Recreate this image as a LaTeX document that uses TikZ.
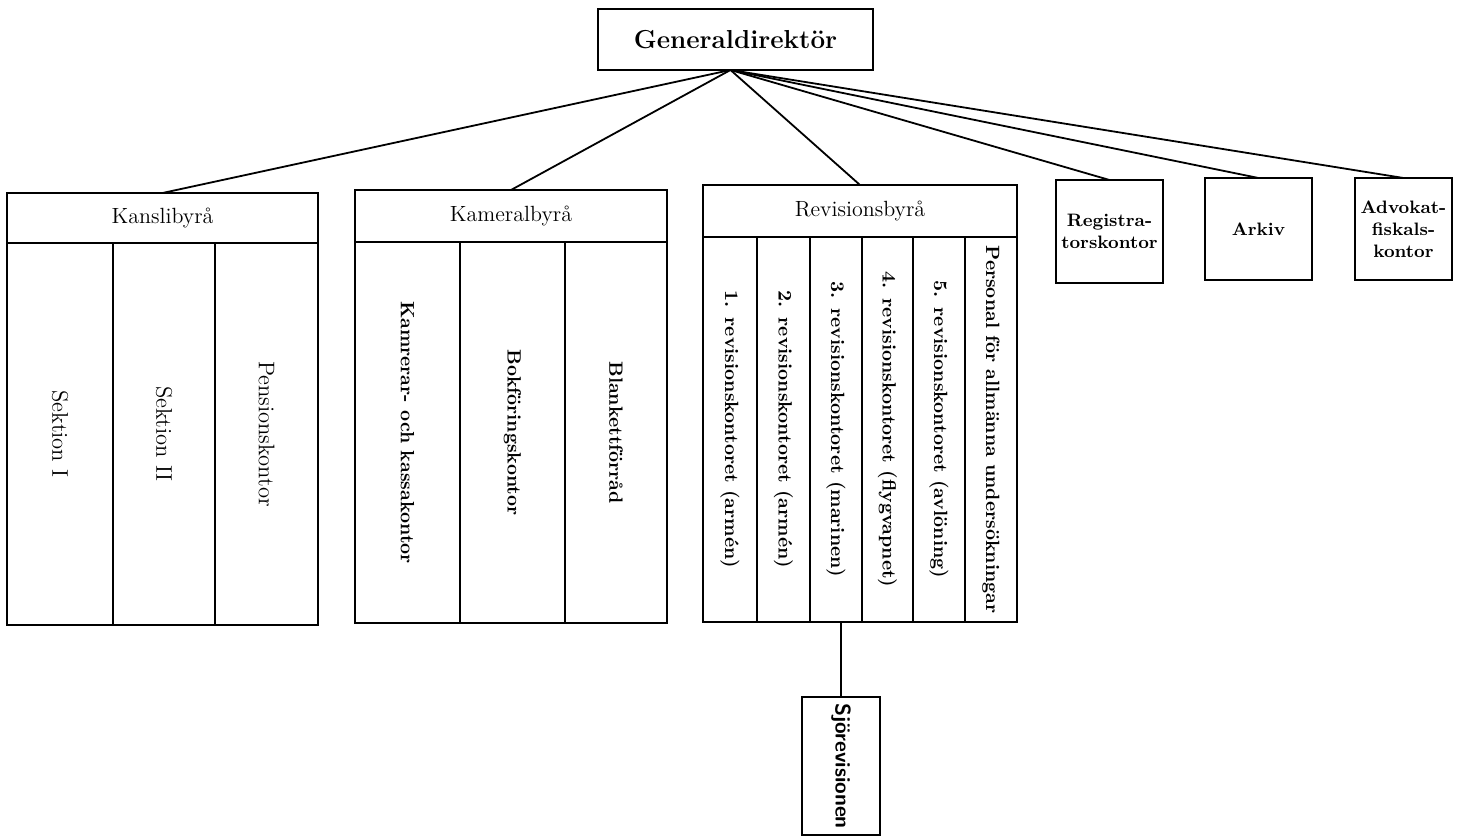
\documentclass[tikz,border=0pt]{standalone}
\usepackage{tikz}
\usetikzlibrary{positioning}

\tikzset{
  box/.style={draw, line width=1pt, inner sep=1pt, outer sep=0pt, align=center},
  headtext/.style={font=\fontsize{11}{13}\selectfont},
  coltext/.style={rotate=-90, inner sep=0pt, font=\fontsize{11.3}{13}\selectfont},
  boldcol/.style={rotate=-90, inner sep=0pt, font=\fontsize{9.6}{11}\selectfont\bfseries},
  sidebox/.style={box, font=\fontsize{9}{11}\selectfont\bfseries},
  link/.style={line width=0.9pt},
}

\begin{document}
\begin{tikzpicture}[x=0.5pt, y=-0.5pt, line width=1pt] % one unit = one pixel of the scan

	\useasboundingbox (0,0) rectangle (1458,839);

	% Top of the tree
	\node[box, minimum width=137.5pt, minimum height=30.5pt, font=\fontsize{13}{15}\selectfont\bfseries] (gd) at (735.5,39.5) {Generaldirektör};
	\coordinate (hub) at ([xshift=-2.5pt]gd.south);

	% Kanslibyrå with its three sections
	\node[box, headtext, minimum width=155.5pt, minimum height=25pt] (kansli) at (162.5,218) {Kanslibyrå};
	\node[box, minimum width=155.5pt, minimum height=191pt, below=0pt of kansli] (kanslicols) {};
	\foreach \x in {113,215}
		\draw (\x,0 |- kanslicols.north) -- (\x,0 |- kanslicols.south);
	\foreach \x/\t [count=\i] in {60/Sektion I, 164/Sektion II, 266.5/Pensionskontor}
		\node[coltext] (kcol\i) at (\x,0 |- kanslicols.center) {\t};

	% Kameralbyrå
	\node[box, headtext, minimum width=156pt, minimum height=26pt] (kameral) at (511,216) {Kameralbyrå};
	\node[box, minimum width=156pt, minimum height=190.5pt, below=0pt of kameral] (kameralcols) {};
	\foreach \x in {460,565}
		\draw (\x,0 |- kameralcols.north) -- (\x,0 |- kameralcols.south);
	\foreach \x/\t [count=\i] in {407.5/Kamrerar- och kassakontor, 512.5/Bokföringskontor, 616/Blankettförråd}
		\node[boldcol] (kacol\i) at (\x,0 |- kameralcols.center) {\t};

	% Revisionsbyrå with six columns
	\node[box, headtext, minimum width=157pt, minimum height=26pt] (rev) at (860,211) {Revisionsbyrå};
	\node[box, minimum width=157pt, minimum height=192.5pt, below=0pt of rev] (revcols) {};
	\foreach \x in {757,810,862,913,965}
		\draw (\x,0 |- revcols.north) -- (\x,0 |- revcols.south);
	\foreach \x/\t [count=\i] in {730/1. revisionskontoret (armén),
			783.5/2. revisionskontoret (armén),
			836/3. revisionskontoret (marinen),
			887.5/4. revisionskontoret (flygvapnet),
			939/5. revisionskontoret (avlöning),
			991/Personal för allmänna undersökningar}
		\node[boldcol] (rcol\i) at (\x,0 |- revcols.center) {\t};

	% Sjörevisionen below
	\node[box, minimum width=39pt, minimum height=69pt,
		label={[rotate=-90, font=\fontsize{10.6}{12}\selectfont\sffamily\bfseries]center:Sjörevisionen}] (sjo) at (841,766) {};
	\draw[link] (sjo.north) -- (sjo.north |- revcols.south);

	% Offices on the right
	\node[sidebox, minimum width=53.5pt, minimum height=51.5pt] (regist) at (1109.5,231.5) {Registra-\\torskontor};
	\node[sidebox, minimum width=53.5pt, minimum height=51pt] (arkiv) at (1258.5,229) {Arkiv};
	\node[sidebox, minimum width=48.5pt, minimum height=51pt] (advokat) at (1403.5,229) {Advokat-\\fiskals-\\kontor};

	% Lines from the Generaldirektör
	\foreach \n in {kansli,kameral,rev,regist,arkiv,advokat}
		\draw[link] (hub) -- (\n.north);

\end{tikzpicture}
\end{document}
